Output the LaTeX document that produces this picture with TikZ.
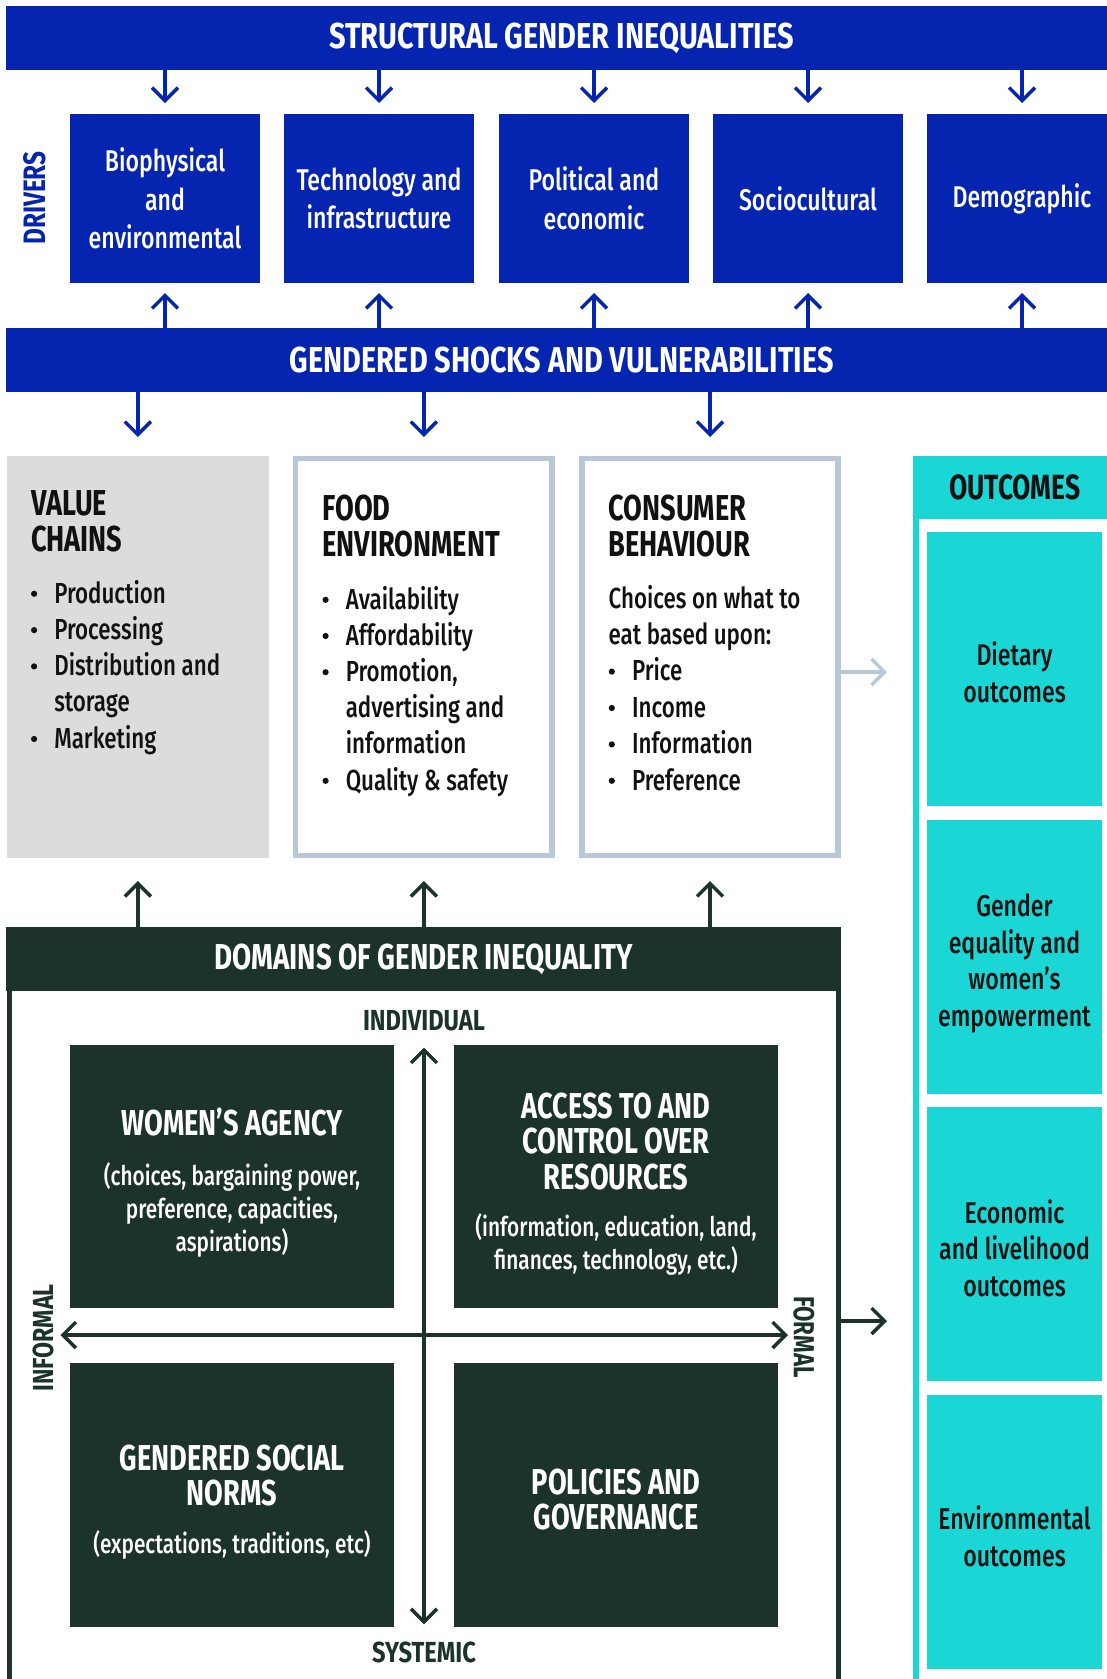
\documentclass[tikz,border=0pt]{standalone}
\usepackage{fontspec}
\setmainfont{Fira Sans Medium}[FakeStretch=0.77]
\newfontfamily\hb{Fira Sans}[FakeStretch=0.755]
\usetikzlibrary{arrows.meta,calc}
\definecolor{sgblue}{HTML}{0524AF}
\definecolor{dkgreen}{HTML}{1B332A}
\definecolor{tealc}{HTML}{1AD7D6}
\definecolor{vcgray}{HTML}{DCDCDC}
\definecolor{ltblue}{HTML}{B8C8D8}
\definecolor{ink}{HTML}{111111}
\newcommand\bul{\makebox[23.3pt][l]{\tikz[baseline=0pt]\fill[ink] (3.5pt,9.2pt) circle (3.1pt);}}
\newcommand\lines[2]{\begin{tabular}[t]{@{}#1@{}}#2\end{tabular}}
\newcommand\hs[2]{\scalebox{#1}[1]{#2}}
\begin{document}
\begin{tikzpicture}[x=1pt,y=-1pt,
  every node/.style={inner sep=0pt,outer sep=0pt},
  fbar/.style={fill=sgblue,minimum width=1111pt,minimum height=64pt,text=white,font=\hb\bfseries\fontsize{36}{40}\selectfont},
  drv/.style={fill=sgblue,minimum width=190pt,minimum height=169pt,text=white,align=center,font=\fontsize{30}{38.5}\selectfont},
  sechead/.style={anchor=base west,text=ink,font=\hb\bfseries\fontsize{36}{36}\selectfont},
  seclist/.style={anchor=base west,text=ink,font=\fontsize{29}{36.3}\selectfont},
  secbox/.style={draw=ltblue,line width=5.4pt,fill=white,minimum width=256.2pt,minimum height=396.6pt,outer sep=2.7pt},
  outbox/.style={fill=tealc,minimum width=175pt,minimum height=274pt},
  outtxt/.style={align=center,text=ink,font=\fontsize{30}{36.7}\selectfont},
  quad/.style={fill=dkgreen,minimum width=324pt},
  qtitle/.style={anchor=base,text=white,font=\hb\bfseries\fontsize{36}{34.5}\selectfont},
  qsub/.style={anchor=base,text=white,font=\fontsize{27}{33}\selectfont},
  axlab/.style={text=dkgreen,font=\hb\bfseries\fontsize{29}{30}\selectfont},
  arr/.style={line width=3.5pt,-{Straight Barb[length=13pt,width=26pt]}},
  blarr/.style={arr,draw=sgblue},
  dkarr/.style={arr,draw=dkgreen},
  ltarr/.style={arr,draw=ltblue}
]
\useasboundingbox (0,0) rectangle (1107,1679);
\clip (0,0) rectangle (1107,1679);
\fill[white] (0,0) rectangle (1107,1679);

% top bars
\node[fbar] (sgi) at (561.5,38) {\hs{1.065}{STRUCTURAL GENDER INEQUALITIES}};
\node[fbar] (gsv) at (561.5,360) {\hs{1.06}{GENDERED SHOCKS AND VULNERABILITIES}};

% drivers
\node[drv] (d1) at (165,198.5) {Biophysical\\and\\environmental};
\node[drv] (d2) at (379,198.5) {Technology and\\infrastructure};
\node[drv] (d3) at (594,198.5) {Political and\\economic};
\node[drv] (d4) at (808,198.5) {Sociocultural};
\node[drv] (d5) at (1022,198.5) {Demographic};
\node[rotate=90,text=sgblue,font=\hb\bfseries\fontsize{31}{32}\selectfont] (drvlab) at (35,198) {\hs{1.04}{DRIVERS}};

\foreach \d in {d1,d2,d3,d4,d5}{
  \draw[blarr,shorten >=11pt] (sgi.south -| \d) -- (\d.north);
  \draw[blarr,shorten >=10pt] (gsv.north -| \d) -- (\d.south);
}

% food system boxes
\node[fill=vcgray,minimum width=261.6pt,minimum height=402pt] (vc) at (137.8,657) {};
\node[secbox] (fe) at (423.8,657) {};
\node[secbox] (cb) at (710,657) {};

\node[sechead] (vch) at (31,515) {\fontsize{36}{35}\selectfont\lines{l}{VALUE\\CHAINS}};
\node[seclist] (vcl) at (31,603) {\begin{tabular}[t]{@{}l@{}l@{}}\bul&Production\\\bul&Processing\\\bul&Distribution and\\&storage\\\bul&Marketing\end{tabular}};

\node[sechead] (feh) at (322.5,520) {\fontsize{36}{36.7}\selectfont\lines{l}{FOOD\\ENVIRONMENT}};
\node[seclist] (fel) at (322.5,609) {\fontsize{29}{36.2}\selectfont\begin{tabular}[t]{@{}l@{}l@{}}\bul&Availability\\\bul&Affordability\\\bul&Promotion,\\&advertising and\\&information\\\bul&Quality \& safety\end{tabular}};

\node[sechead] (cbh) at (608.7,520) {\fontsize{36}{36}\selectfont\lines{l}{CONSUMER\\BEHAVIOUR}};
\node[seclist] (cbl) at (608.7,608) {\fontsize{29}{36.4}\selectfont\begin{tabular}[t]{@{}l@{}l@{}}\multicolumn{2}{@{}l@{}}{Choices on what to}\\\multicolumn{2}{@{}l@{}}{eat based upon:}\\\bul&Price\\\bul&Income\\\bul&Information\\\bul&Preference\end{tabular}};

\foreach \s in {vc,fe,cb}{
  \draw[blarr,shorten >=19pt] (gsv.south -| \s) -- (\s.north);
}

% outcomes
\node[fill=tealc,minimum width=207pt,minimum height=1244pt] (outf) at (1016.5,1078) {};
\node[fill=white,minimum width=201.5pt,minimum height=1181pt] (outw) at (1019.25,1109.5) {};
\node[anchor=base,text=ink,font=\hb\bfseries\fontsize{35}{36}\selectfont] (outt) at (1015,499) {OUTCOMES};
\node[outbox] (o1) at (1014.5,669) {};
\node[outbox] (o2) at (1014.5,956.5) {};
\node[outbox] (o3) at (1014.5,1244) {};
\node[outbox] (o4) at (1014.5,1531.5) {};
\node[outtxt] (o1t) at ([yshift=-3pt]o1.center) {Dietary\\outcomes};
\node[outtxt] (o2t) at ([yshift=-7pt]o2.center) {Gender\\equality and\\women’s\\empowerment};
\node[outtxt] (o3t) at ([yshift=-4pt]o3.center) {Economic\\and livelihood\\outcomes};
\node[outtxt] (o4t) at ([yshift=-5pt]o4.center) {Environmental\\outcomes};

\draw[ltarr,shorten >=26pt] ([yshift=-15pt]cb.east) -- ([yshift=-15pt]cb.east -| outf.west);

% domains
\node[draw=dkgreen,line width=5pt,minimum width=829pt,minimum height=770pt,outer sep=2.5pt] (dom) at (424,1315) {};
\node[fill=dkgreen,minimum width=835pt,minimum height=64pt,text=white,font=\hb\bfseries\fontsize{36}{40}\selectfont] (dh) at (423.5,959) {\hs{1.02}{DOMAINS OF GENDER INEQUALITY}};

\foreach \s in {vc,fe,cb}{
  \draw[dkarr,shorten >=23pt] (dh.north -| \s) -- (\s.south);
}

\node[quad,minimum height=263pt] (q1) at (232,1176.5) {};
\node[quad,minimum height=263pt] (q2) at (615.8,1176.5) {};
\node[quad,minimum height=264pt] (q3) at (232,1495) {};
\node[quad,minimum height=264pt] (q4) at (615.8,1495) {};

\node[qtitle] (q1t) at (232,1135) {WOMEN’S AGENCY};
\node[qsub] (q1s) at (232,1185) {\lines{c}{(choices, bargaining power,\\preference, capacities,\\aspirations)}};
\node[qtitle] (q2t) at (616,1118) {\lines{c}{ACCESS TO AND\\CONTROL OVER\\RESOURCES}};
\node[qsub] (q2s) at (616,1236) {\lines{c}{(information, education, land,\\finances, technology, etc.)}};
\node[qtitle] (q3t) at (232,1470) {\lines{c}{GENDERED SOCIAL\\NORMS}};
\node[qsub] (q3s) at (232,1553) {(expectations, traditions, etc)};
\node[qtitle] (q4t) at (616,1494) {\lines{c}{POLICIES AND\\GOVERNANCE}};

\node[axlab,anchor=base] (ind) at (424,1030) {\hs{1.08}{INDIVIDUAL}};
\node[axlab,anchor=base] (sys) at (424,1662) {\hs{1.08}{SYSTEMIC}};
\node[axlab,rotate=90] (inf) at (43.5,1338) {\hs{1.06}{INFORMAL}};
\node[axlab,rotate=-90] (frm) at (804,1337) {\hs{1.02}{FORMAL}};

\draw[dkarr,{Straight Barb[length=13pt,width=26pt]}-{Straight Barb[length=13pt,width=26pt]},shorten <=17pt,shorten >=17pt] (ind) -- (sys);
\draw[dkarr,{Straight Barb[length=13pt,width=26pt]}-{Straight Barb[length=13pt,width=26pt]},shorten <=17pt,shorten >=16pt] (inf.center |- 0,1335) -- (frm.center |- 0,1335);

\draw[dkarr,shorten >=26pt] ([yshift=-6pt]dom.east) -- ([yshift=-6pt]dom.east -| outf.west);
\end{tikzpicture}
\end{document}
